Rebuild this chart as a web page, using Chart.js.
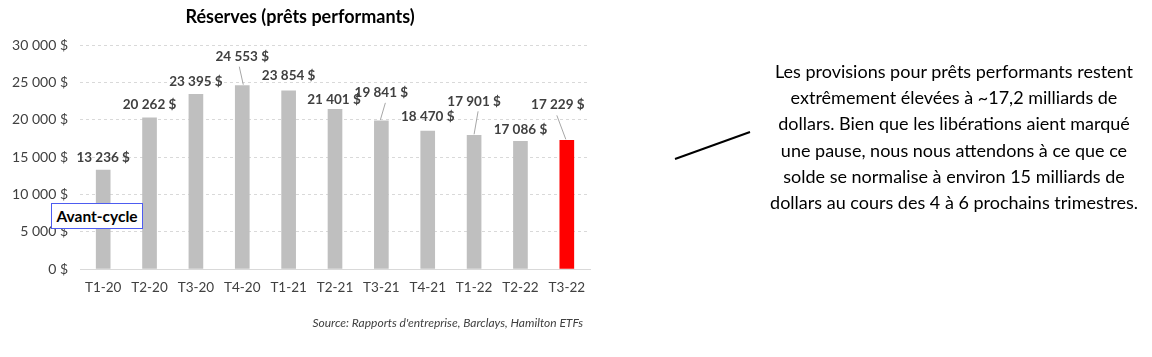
<!DOCTYPE html>
<html><head><meta charset="utf-8">
<script src="https://cdn.jsdelivr.net/npm/chart.js@4"></script>
<style>
html,body{margin:0;padding:0;background:#fff;width:1152px;height:357px;overflow:hidden;font-family:Lato,"Open Sans",sans-serif;}
#wrap{position:absolute;left:0;top:0;width:600px;height:357px;}
#title{position:absolute;left:0;width:600px;top:5px;text-align:center;font-weight:bold;font-size:18px;color:#000;}
#source{position:absolute;right:569px;top:315px;font-style:italic;font-size:12px;color:#404040;white-space:nowrap;}
#avant{position:absolute;left:51px;top:203px;width:90px;height:24px;border:1px solid #4d5cf0;background:#fff;font-weight:bold;font-size:15.5px;line-height:24px;text-align:center;color:#000;}
#note{position:absolute;left:754px;top:58px;width:400px;text-align:center;font-size:18px;line-height:26.2px;color:#000;}
svg{position:absolute;left:0;top:0;}
</style></head>
<body>
<div id="wrap"><canvas id="c" width="600" height="357"></canvas></div>
<div id="title">Réserves (prêts performants)</div>
<div id="avant">Avant-cycle</div>
<div id="source">Source: Rapports d'entreprise, Barclays, Hamilton ETFs</div>
<svg width="1152" height="357"><line x1="675" y1="159" x2="750" y2="132" stroke="#000" stroke-width="2"/></svg>
<div id="note">Les provisions pour prêts performants restent<br>extrêmement élevées à ~17,2 milliards de<br>dollars. Bien que les libérations aient marqué<br>une pause, nous nous attendons à ce que ce<br>solde se normalise à environ 15 milliards de<br>dollars au cours des 4 à 6 prochains trimestres.</div>
<script>
const categories = ['T1-20','T2-20','T3-20','T4-20','T1-21','T2-21','T3-21','T4-21','T1-22','T2-22','T3-22'];
const reserves = [13236, 20262, 23395, 24553, 23854, 21401, 19841, 18470, 17901, 17086, 17229];
const highlightIndex = 10;

function fmt(v){
  return String(Math.round(v)).replace(/\B(?=(\d{3})+(?!\d))/g,' ') + ' $';
}

const labelPlugin = {
  id:'valueLabels',
  afterDatasetsDraw(chart){
    const ctx = chart.ctx;
    const meta = chart.getDatasetMeta(0);
    // [dx, dy, leader]
    const place = [
      [0,-13],[0,-13],[0,-13],[0,-29,[-3,-19,1,-1]],[0,-15],[-1,-10],
      [0,-28,[4,-18,-1,-1]],[0,-14],[0,-34,[4,-24,0,-1]],[0,-12],[-9,-36,[-10,-25,-1,-1]]
    ];
    ctx.save();
    ctx.font = 'bold 13.5px Lato, "Open Sans", sans-serif';
    ctx.fillStyle = '#404040';
    ctx.textAlign = 'center';
    ctx.textBaseline = 'middle';
    meta.data.forEach((bar,i)=>{
      const p = place[i] || [0,-13];
      ctx.fillText(fmt(reserves[i]), bar.x + p[0], bar.y + p[1]);
      if (p[2]) {
        ctx.strokeStyle = '#a6a6a6';
        ctx.lineWidth = 1;
        ctx.beginPath();
        ctx.moveTo(bar.x + p[2][0], bar.y + p[2][1]);
        ctx.lineTo(bar.x + p[2][2], bar.y + p[2][3]);
        ctx.stroke();
      }
    });
    ctx.restore();
  }
};

new Chart(document.getElementById('c'), {
  type:'bar',
  data:{
    labels: categories,
    datasets:[{
      data: reserves,
      backgroundColor: reserves.map((v,i)=> i===highlightIndex ? '#ff0000' : '#bfbfbf'),
      barThickness: 14
    }]
  },
  options:{
    responsive:false,
    animation:false,
    devicePixelRatio:1,
    layout:{padding:{left:0,right:10,top:45,bottom:58}},
    plugins:{legend:{display:false},tooltip:{enabled:false},title:{display:false}},
    scales:{
      x:{
        grid:{display:false, drawTicks:false},
        border:{display:true,color:'#d9d9d9',width:1},
        ticks:{color:'#404040',font:{family:'Lato, "Open Sans", sans-serif',size:13.5},padding:11,maxRotation:0},
        afterFit(s){ s.height = 30; }
      },
      y:{
        min:0,max:30000,
        grid:{color:'#d9d9d9',drawTicks:false,lineWidth:1},
        border:{display:false,dash:[3,3]},
        ticks:{stepSize:5000,color:'#404040',font:{family:'Lato, "Open Sans", sans-serif',size:14},padding:12,callback:(v)=>fmt(v)},
        afterFit(s){ s.width = 80; }
      }
    }
  },
  plugins:[labelPlugin]
});
</script>
</body></html>
